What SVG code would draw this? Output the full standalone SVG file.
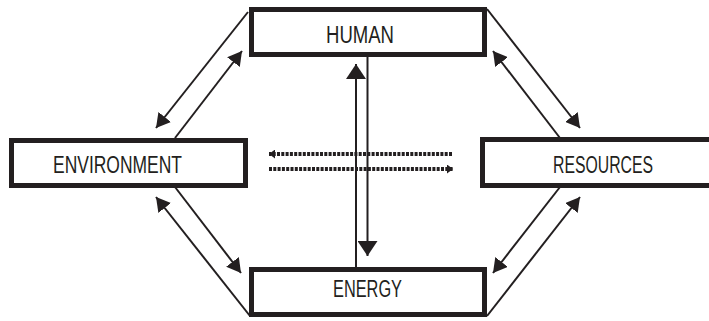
<svg xmlns="http://www.w3.org/2000/svg" width="709" height="321" viewBox="0 0 709 321">
<style>
.box{fill:#fff;stroke:#231f20;stroke-width:5}
.lbl{font-family:"Liberation Sans",Arial,sans-serif;font-size:23px;fill:#231f20}
.ln{stroke:#231f20;stroke-width:2;fill:none}
.dot{stroke:#231f20;stroke-width:4;stroke-dasharray:3 1.3;fill:none}
</style>
<defs>
<marker id="ah" markerUnits="userSpaceOnUse" viewBox="0 0 14 16" refX="14" refY="8" markerWidth="14" markerHeight="16" orient="auto">
<path d="M0,0 L14,8 L0,16 Z" fill="#231f20"/>
</marker>
<marker id="av" markerUnits="userSpaceOnUse" viewBox="0 0 15 20" refX="15" refY="10" markerWidth="15" markerHeight="20" orient="auto">
<path d="M0,0 L15,10 L0,20 Z" fill="#231f20"/>
</marker>
<marker id="ad" markerUnits="userSpaceOnUse" viewBox="0 0 6 9" refX="6" refY="4.5" markerWidth="6" markerHeight="9" orient="auto">
<path d="M0,0 L6,4.5 L0,9 Z" fill="#231f20"/>
</marker>
</defs>
<g id="connectors">
<line class="ln" x1="248" y1="12" x2="156" y2="128" marker-end="url(#ah)"/>
<line class="ln" x1="175" y1="138" x2="242" y2="51" marker-end="url(#ah)"/>
<line class="ln" x1="487" y1="9" x2="580" y2="128" marker-end="url(#ah)"/>
<line class="ln" x1="560" y1="138" x2="493" y2="51" marker-end="url(#ah)"/>
<line class="ln" x1="175" y1="187" x2="241" y2="273" marker-end="url(#ah)"/>
<line class="ln" x1="250" y1="316" x2="156" y2="197" marker-end="url(#ah)"/>
<line class="ln" x1="560" y1="187" x2="493" y2="273" marker-end="url(#ah)"/>
<line class="ln" x1="487" y1="316" x2="580" y2="197" marker-end="url(#ah)"/>
<line class="ln" x1="356" y1="268" x2="356" y2="64" marker-end="url(#av)"/>
<line class="ln" x1="367.5" y1="56" x2="367.5" y2="256" marker-end="url(#av)"/>
<line class="dot" x1="452" y1="154" x2="269" y2="154" marker-end="url(#ad)"/>
<line class="dot" x1="269" y1="169" x2="453" y2="169" marker-end="url(#ad)"/>
</g>
<g id="human">
<rect class="box" x="251.5" y="9.5" width="233" height="45"/>
<text class="lbl" x="326" y="43" textLength="68" lengthAdjust="spacingAndGlyphs">HUMAN</text>
</g>
<g id="energy">
<rect class="box" x="251.5" y="269.5" width="233" height="45"/>
<text class="lbl" x="333" y="297" textLength="69" lengthAdjust="spacingAndGlyphs">ENERGY</text>
</g>
<g id="environment">
<rect class="box" x="11.5" y="140.5" width="234" height="45"/>
<text class="lbl" x="53" y="173" textLength="129" lengthAdjust="spacingAndGlyphs">ENVIRONMENT</text>
</g>
<g id="resources">
<rect class="box" x="482.5" y="139.5" width="240" height="46"/>
<text class="lbl" x="553" y="173" textLength="100" lengthAdjust="spacingAndGlyphs">RESOURCES</text>
</g>
</svg>
